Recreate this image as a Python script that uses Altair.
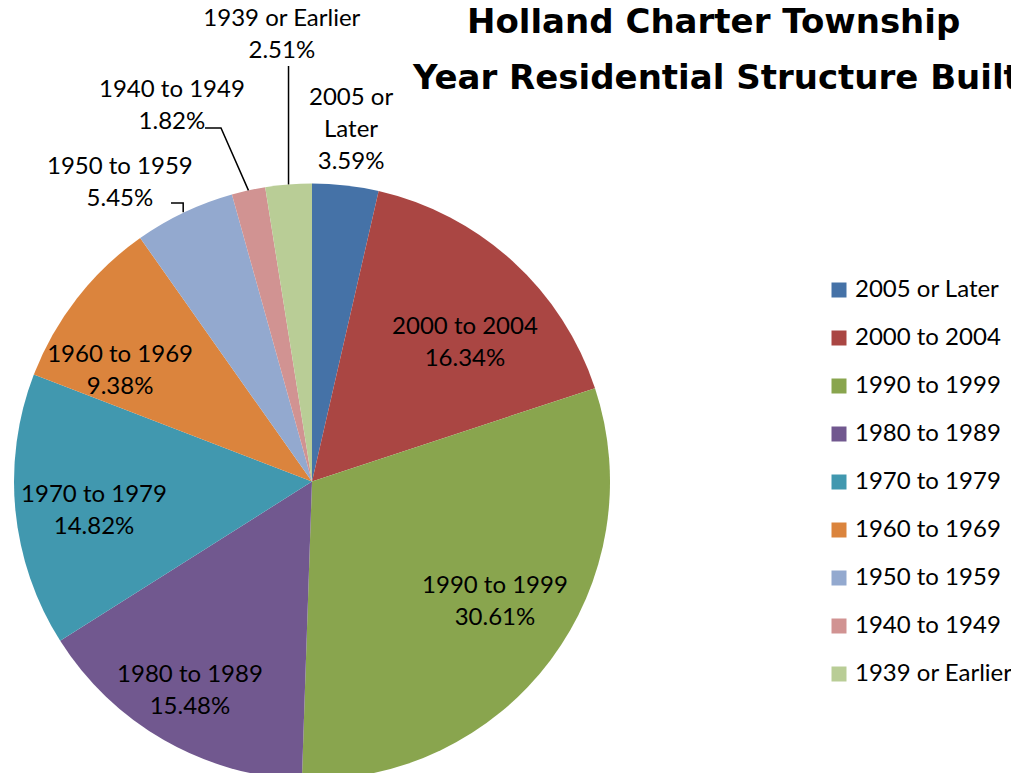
import math
import pandas as pd
import altair as alt

# ---- data ----
categories = ["2005 or Later", "2000 to 2004", "1990 to 1999", "1980 to 1989",
              "1970 to 1979", "1960 to 1969", "1950 to 1959", "1940 to 1949",
              "1939 or Earlier"]
values = [3.59, 16.34, 30.61, 15.48, 14.82, 9.38, 5.45, 1.82, 2.51]
colors = ["#4572A7", "#AA4643", "#89A54E", "#71588F", "#4198AF",
          "#DB843D", "#93A9CF", "#D19392", "#B9CD96"]
title_lines = ["Holland Charter Township", "Year Residential Structure Built"]

# ---- layout (pixels) ----
CX, CY, R = 304, 473.5, 298
FONT = "Lato"
LINE_H = 32
label_radius = [355.6, 207.7, 218, 240.7, 219.7, 222.5, 356.6, 402.6, 449.5]
label_dtheta = [-0.16, 5.1, -3.9, 0.65, -1.5, -7.5, -7.2, -8.05, 0.67]  # degrees
title_pos = [(459, 15), (405, 71)]

total = sum(values)
cum = 0.0
rows = []
for i, (c, v) in enumerate(zip(categories, values)):
    mid = (cum + v / 2) / total * 2 * math.pi
    cum += v
    if c == "2005 or Later":
        txt = "2005 or\nLater\n" + f"{v:.2f}%"
    else:
        txt = f"{c}\n{v:.2f}%"
    # centre of the label block, then move anchor to first line
    th = mid + math.radians(label_dtheta[i])
    lx = label_radius[i] * math.sin(th)
    ly = -label_radius[i] * math.cos(th) - (txt.count("\n")) * LINE_H / 2 + 2
    rows.append(dict(cat=c, val=v, idx=i, mid=mid, label=txt,
                     lab_theta=math.atan2(lx, -ly), lab_r=math.hypot(lx, ly)))
df = pd.DataFrame(rows)

# leader lines: label-side points (layout) + slice edge point (from data)
def edge(cat):
    m = df.loc[df.cat == cat, "mid"].iloc[0]
    return CX + R * math.sin(m), CY - R * math.cos(m)

lead = []
ex, ey = edge("1939 or Earlier")
lead += [dict(g="a", o=0, x=ex, y=58), dict(g="a", o=1, x=ex, y=ey)]
ex, ey = edge("1940 to 1949")
lead += [dict(g="b", o=0, x=197, y=120), dict(g="b", o=1, x=213, y=120),
         dict(g="b", o=2, x=ex, y=ey)]
ex, ey = edge("1950 to 1959")
lead += [dict(g="c", o=0, x=163, y=195), dict(g="c", o=1, x=ex - 1, y=195),
         dict(g="c", o=2, x=ex - 1, y=ey)]
lead_df = pd.DataFrame(lead)

title_df = pd.DataFrame(dict(t=title_lines, x=[p[0] for p in title_pos],
                             y=[p[1] for p in title_pos]))

base = alt.Chart(df)

arcs = base.mark_arc(radius=R).encode(
    theta=alt.Theta("val:Q", stack=True),
    order=alt.Order("idx:Q"),
    color=alt.Color("cat:N", scale=alt.Scale(domain=categories, range=colors),
                    sort=categories, title=None,
                    legend=alt.Legend(orient="none", legendX=819, legendY=270,
                                      symbolType="square", symbolSize=225,
                                      symbolStrokeWidth=0, labelFont=FONT,
                                      labelFontSize=24, labelColor="#000000",
                                      rowPadding=24, labelOffset=4,
                                      labelLimit=300)),
    x=alt.value(CX), y=alt.value(CY),
)

labels = base.mark_text(font=FONT, fontSize=24, lineBreak="\n", lineHeight=LINE_H,
                        color="#000000", align="center", baseline="middle").encode(
    theta=alt.Theta("lab_theta:Q", scale=None, stack=False),
    radius=alt.Radius("lab_r:Q", scale=None),
    text="label:N",
    x=alt.value(CX), y=alt.value(CY),
)

leaders = alt.Chart(lead_df).mark_line(color="#000000", strokeWidth=1.5).encode(
    x=alt.X("x:Q", scale=None), y=alt.Y("y:Q", scale=None),
    detail="g:N", order="o:Q",
)

titles = alt.Chart(title_df).mark_text(font="DejaVu Sans", fontSize=34, fontWeight="bold",
                                       align="left", baseline="middle",
                                       color="#000000").encode(
    x=alt.X("x:Q", scale=None), y=alt.Y("y:Q", scale=None), text="t:N")

chart = alt.layer(arcs, labels, leaders, titles).properties(
    width=1003, height=765, autosize="none", padding=0
).configure_view(stroke=None)

chart.save("out.html", embed_options={"renderer": "svg", "actions": False})
